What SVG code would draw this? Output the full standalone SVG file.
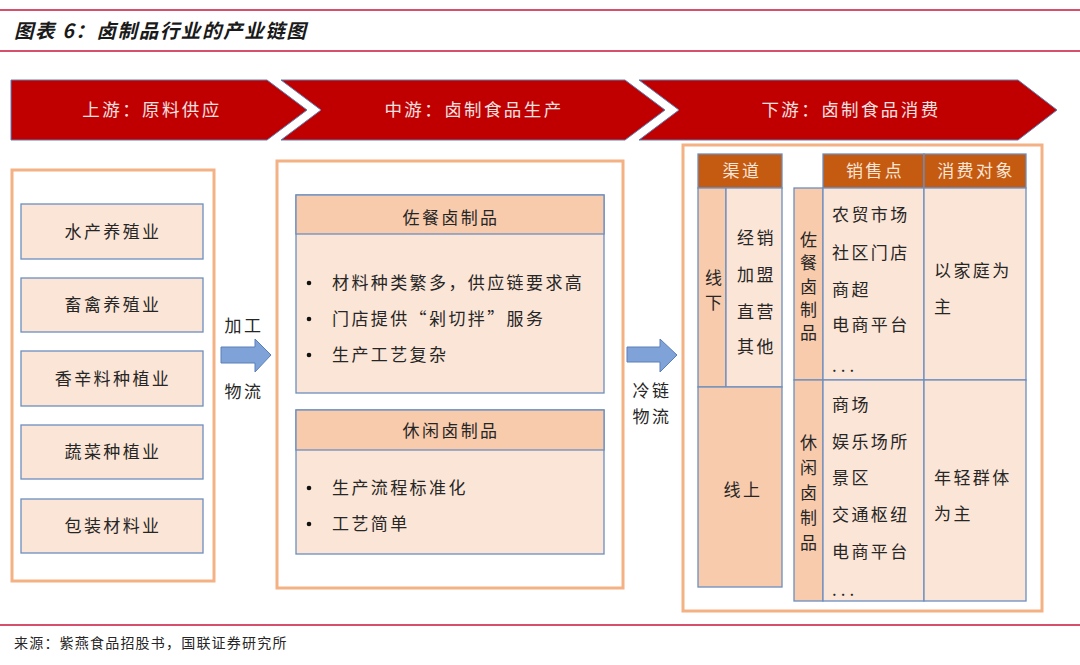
<svg xmlns="http://www.w3.org/2000/svg" width="1080" height="665" viewBox="0 0 1080 665">
<style>
text{font-family:"Noto Sans CJK SC","Noto Sans",sans-serif;fill:#262626;font-size:17px;letter-spacing:2.4px}
.rule{stroke:#C8143C;stroke-width:1.6}
.chev{fill:#C00000;stroke:#5B7FB5;stroke-width:1}
.chevt{fill:#F6E1E1;font-size:17.5px;text-anchor:middle}
.frame{fill:#fff;stroke:#F4B183;stroke-width:3}
.cell{fill:#FBE5D6;stroke:#6C8EBF;stroke-width:1.3}
.hcell{fill:#F8CBAD;stroke:#6C8EBF;stroke-width:1.3}
.dcell{fill:#C55A11;stroke:#6C8EBF;stroke-width:1.3}
.dtxt{fill:#FBE5D6;text-anchor:middle}
.mid{text-anchor:middle}
.blk{fill:#7FA3D8;stroke:#5B7FB5;stroke-width:1}
.bul{fill:#111}
</style>
<line class="rule" x1="0" y1="10" x2="1080" y2="10"/>
<text x="14" y="38" style="font-size:19.5px;font-style:italic;font-weight:bold;letter-spacing:1.6px;fill:#1a1a1a">图表 6：卤制品行业的产业链图</text>
<line class="rule" x1="0" y1="51" x2="1080" y2="51"/>

<g id="stage-upstream">
<polygon class="chev" points="11,80 267,80 307,110 267,140 11,140"/>
<text class="chevt" x="152" y="116">上游：原料供应</text>
</g>
<g id="stage-midstream">
<polygon class="chev" points="281,80 625,80 665,110 625,140 281,140 321,110"/>
<text class="chevt" x="474" y="116">中游：卤制食品生产</text>
</g>
<g id="stage-downstream">
<polygon class="chev" points="639,80 1018,80 1057,110 1018,140 639,140 679,110"/>
<text class="chevt" x="851" y="116">下游：卤制食品消费</text>
</g>

<g id="upstream">
<rect class="frame" x="12" y="170" width="202" height="411"/>
<g id="up-1"><rect class="cell" x="21" y="204" width="182" height="55"/><text class="mid" x="113" y="238">水产养殖业</text></g>
<g id="up-2"><rect class="cell" x="21" y="278" width="182" height="54"/><text class="mid" x="113" y="311">畜禽养殖业</text></g>
<g id="up-3"><rect class="cell" x="21" y="351" width="182" height="55"/><text class="mid" x="113" y="385">香辛料种植业</text></g>
<g id="up-4"><rect class="cell" x="21" y="425" width="182" height="54"/><text class="mid" x="113" y="458">蔬菜种植业</text></g>
<g id="up-5"><rect class="cell" x="21" y="499" width="182" height="54"/><text class="mid" x="113" y="532">包装材料业</text></g>
</g>

<g id="midstream">
<rect class="frame" x="277" y="161" width="346" height="427"/>
<g id="mid-1">
<rect class="cell" x="296" y="195" width="308" height="198"/>
<rect class="hcell" x="296" y="195" width="308" height="39"/>
<text class="mid" x="451" y="224">佐餐卤制品</text>
<circle class="bul" cx="309" cy="283" r="2.3"/><text x="332" y="289">材料种类繁多，供应链要求高</text>
<circle class="bul" cx="309" cy="319" r="2.3"/><text x="332" y="325">门店提供“剁切拌”服务</text>
<circle class="bul" cx="309" cy="355" r="2.3"/><text x="332" y="361">生产工艺复杂</text>
</g>
<g id="mid-2">
<rect class="cell" x="296" y="410" width="308" height="144"/>
<rect class="hcell" x="296" y="410" width="308" height="40"/>
<text class="mid" x="451" y="437">休闲卤制品</text>
<circle class="bul" cx="309" cy="488" r="2.3"/><text x="332" y="494">生产流程标准化</text>
<circle class="bul" cx="309" cy="524" r="2.3"/><text x="332" y="530">工艺简单</text>
</g>
</g>

<g id="downstream">
<rect class="frame" x="683" y="145" width="359" height="466"/>
<g id="channel">
<rect class="dcell" x="698" y="154" width="84" height="34"/>
<text class="dtxt" x="742" y="177">渠道</text>
<rect class="hcell" x="698" y="188" width="28" height="199"/>
<rect class="cell" x="726" y="188" width="56" height="199"/>
<text x="705" y="284">线</text><text x="705" y="309">下</text>
<text x="737" y="244">经销</text>
<text x="737" y="281">加盟</text>
<text x="737" y="318">直营</text>
<text x="737" y="353">其他</text>
<rect class="hcell" x="698" y="387" width="84" height="200"/>
<text class="mid" x="743" y="496">线上</text>
</g>
<g id="sales">
<rect class="dcell" x="823" y="154" width="101" height="34"/>
<rect class="dcell" x="924" y="154" width="102" height="34"/>
<text class="dtxt" x="875" y="177">销售点</text>
<text class="dtxt" x="976" y="177">消费对象</text>
<rect class="hcell" x="794" y="188" width="29" height="192"/>
<rect class="cell" x="823" y="188" width="101" height="192"/>
<rect class="cell" x="924" y="188" width="102" height="192"/>
<text x="800" y="246">佐</text><text x="800" y="269">餐</text><text x="800" y="293">卤</text><text x="800" y="316">制</text><text x="800" y="339">品</text>
<text x="832" y="221">农贸市场</text>
<text x="832" y="259">社区门店</text>
<text x="832" y="296">商超</text>
<text x="832" y="331">电商平台</text>
<text x="832" y="372" style="letter-spacing:4px">...</text>
<text x="934" y="277">以家庭为</text>
<text x="934" y="313">主</text>
<rect class="hcell" x="794" y="380" width="29" height="221"/>
<rect class="cell" x="823" y="380" width="101" height="221"/>
<rect class="cell" x="924" y="380" width="102" height="221"/>
<text x="800" y="449">休</text><text x="800" y="474">闲</text><text x="800" y="499">卤</text><text x="800" y="524">制</text><text x="800" y="549">品</text>
<text x="832" y="411">商场</text>
<text x="832" y="448">娱乐场所</text>
<text x="832" y="484">景区</text>
<text x="832" y="521">交通枢纽</text>
<text x="832" y="558">电商平台</text>
<text x="832" y="596" style="letter-spacing:4px">...</text>
<text x="934" y="484">年轻群体</text>
<text x="934" y="520">为主</text>
</g>
</g>

<g id="connectors">
<polygon class="blk" points="221,347 255,347 255,339 271,355 255,372 255,363 221,363"/>
<text class="mid" x="244" y="332">加工</text>
<text class="mid" x="244" y="398">物流</text>
<polygon class="blk" points="627,347 660,347 660,339 677,355 660,372 660,362 627,362"/>
<text class="mid" x="652" y="397">冷链</text>
<text class="mid" x="652" y="423">物流</text>
</g>

<line class="rule" x1="0" y1="625" x2="1080" y2="625"/>
<text x="14" y="648" style="font-size:14px;letter-spacing:1.2px">来源：紫燕食品招股书，国联证券研究所</text>
</svg>
